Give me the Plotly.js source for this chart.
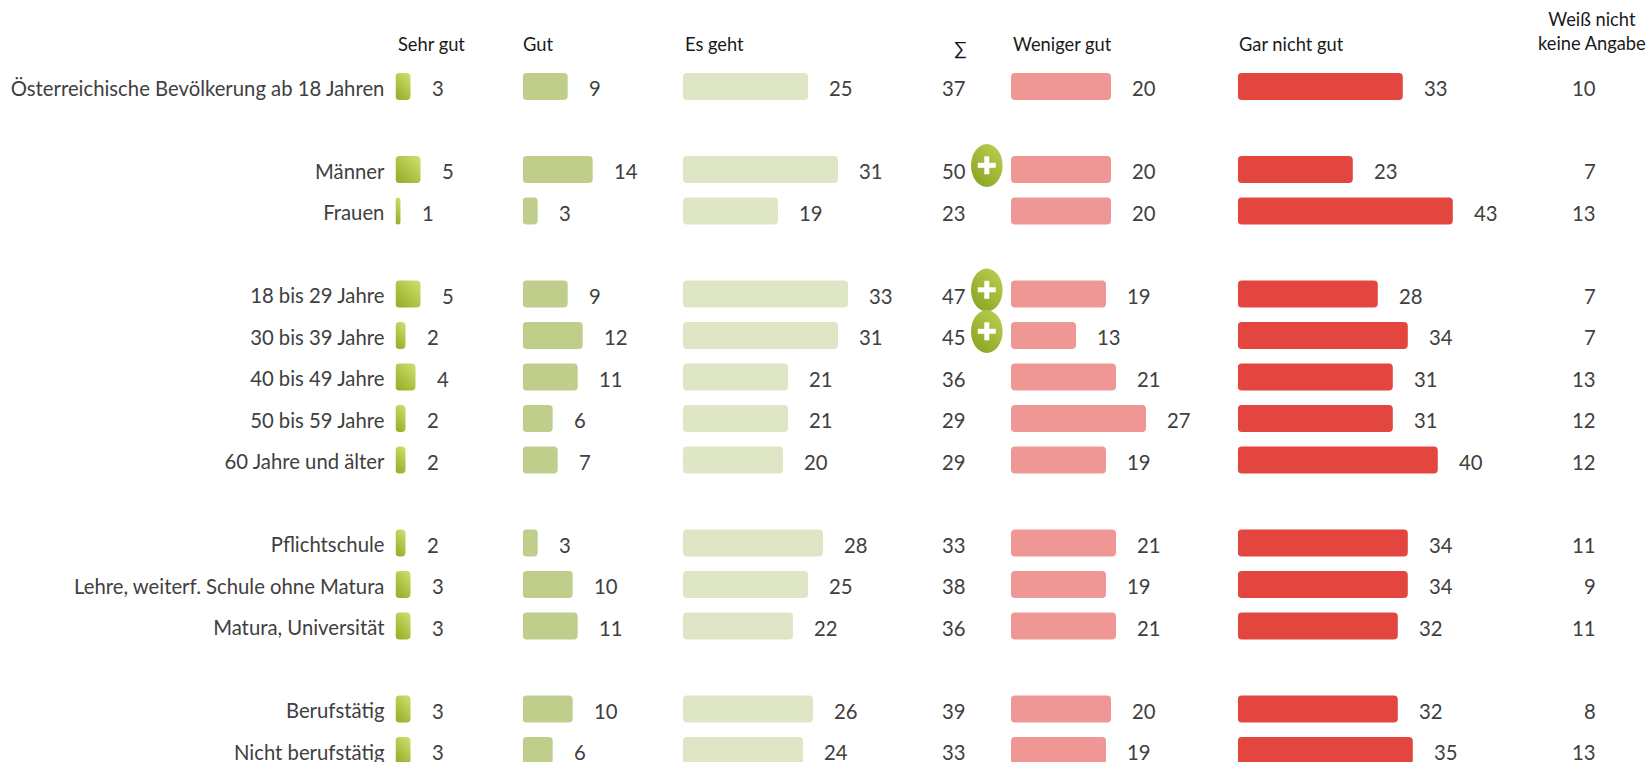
<!DOCTYPE html>
<html><head><meta charset="utf-8">
<script src="https://cdn.plot.ly/plotly-3.0.1.min.js"></script>
<style>html,body{margin:0;padding:0;background:#fff;overflow:hidden}</style>
</head><body><div id="chart" style="width:1650px;height:762px"></div>
<script>
const rowOrder = ["Österreichische Bevölkerung ab 18 Jahren"," ","Männer","Frauen","  ","18 bis 29 Jahre","30 bis 39 Jahre","40 bis 49 Jahre","50 bis 59 Jahre","60 Jahre und älter","   ","Pflichtschule","Lehre, weiterf. Schule ohne Matura","Matura, Universität","    ","Berufstätig","Nicht berufstätig"];
const rows = rowOrder.filter(r => r.trim());
const sehrGut    = [3,5,1,5,2,4,2,2,2,3,3,3,3];
const gut        = [9,14,3,9,12,11,6,7,3,10,11,10,6];
const esGeht     = [25,31,19,33,31,21,21,20,28,25,22,26,24];
const summe      = [37,50,23,47,45,36,29,29,33,38,36,39,33];
const wenigerGut = [20,20,20,19,13,21,27,19,21,19,21,20,19];
const garNichtGut= [33,23,43,28,34,31,31,40,34,34,32,32,35];
const weissNicht = [10,7,13,7,7,13,12,12,11,9,11,8,13];
const plusRows = ["Männer","18 bis 29 Jahre","30 bis 39 Jahre"];
const headers = [
  {t:"Sehr gut",x:396,y:44,a:"left"},{t:"Gut",x:521,y:44,a:"left"},{t:"Es geht",x:683,y:44,a:"left"},
  {t:"∑",x:960,y:48,a:"center"},{t:"Weniger gut",x:1011,y:44,a:"left"},{t:"Gar nicht gut",x:1236.5,y:44,a:"left"},
  {t:"Weiß nicht<br>keine Angabe",x:1592,y:31,a:"center"}
];
const W=1650,H=762,PX=5,ROW=41.5,TOP=86.5,SIZE=20.3;
const GRAD="rgb(181, 199, 76)", ELL="rgb(160, 185, 60)";
const panels=[
 {v:sehrGut,c:GRAD,s:395.5,e:515,ax:""},
 {v:gut,c:"#bfce8a",s:522.7,e:676,ax:"2"},
 {v:esGeht,c:"#dfe6c5",s:683,e:930,ax:"3"},
 {v:wenigerGut,c:"#ee9795",s:1011,e:1230,ax:"4"},
 {v:garNichtGut,c:"#e3463f",s:1237.8,e:1540,ax:"5"}
];
const FONT="Lato, Carlito, sans-serif", TXT="#404040";
const traces=[],annotations=[],shapes=[];
const layout={width:W,height:H,margin:{l:0,r:0,t:0,b:0},paper_bgcolor:"#fff",plot_bgcolor:"#fff",showlegend:false,barmode:"overlay",
 font:{family:FONT,size:SIZE,color:TXT},
 yaxis:{type:"category",categoryorder:"array",categoryarray:rowOrder,tickmode:"linear",dtick:1,
   range:[(H-TOP)/ROW,-TOP/ROW],domain:[0,1],anchor:"x",showgrid:false,zeroline:false,showline:false,
   ticks:"outside",ticklen:6,tickwidth:0,tickcolor:"rgba(0,0,0,0)",ticklabelshift:-2,tickfont:{family:FONT,size:SIZE,color:TXT}}};
function valueLabel(text,x,y,ref,anchor,shift){
  annotations.push({x,y,xref:ref,yref:"y",text:String(text),showarrow:false,xanchor:anchor,yanchor:"middle",
    xshift:shift,yshift:-1.5,font:{family:FONT,size:SIZE,color:TXT}});
}
panels.forEach(p=>{
  const key="xaxis"+p.ax, ref="x"+p.ax;
  layout[key]={domain:[p.s/W,p.e/W],range:[0,(p.e-p.s)/PX],visible:false,anchor:"y",fixedrange:true};
  traces.push({type:"bar",orientation:"h",x:p.v,y:rows,xaxis:ref,yaxis:"y",width:27/ROW,
    marker:{color:p.c,cornerradius:4,line:{width:0}},hoverinfo:"skip"});
  p.v.forEach((v,i)=>valueLabel(v,v,rows[i],ref,"left",19));
});
// text columns: each axis ends well past its labels so the badges are not clipped
const SUM_X=64.6;
layout.xaxis6={domain:[900/W,1010/W],range:[0,110],visible:false,anchor:"y"};
layout.xaxis7={domain:[1540/W,1595/W],range:[0,1],visible:false,anchor:"y"};
traces.push({type:"scatter",mode:"none",x:summe.map(()=>SUM_X),y:rows,xaxis:"x6",yaxis:"y",hoverinfo:"skip"});
traces.push({type:"scatter",mode:"none",x:weissNicht.map(()=>1),y:rows,xaxis:"x7",yaxis:"y",hoverinfo:"skip"});
summe.forEach((v,i)=>valueLabel(v,SUM_X,rows[i],"x6","right",3));
weissNicht.forEach((v,i)=>valueLabel(v,1,rows[i],"x7","right",2.5));
plusRows.forEach(r=>{
  const base={xref:"x6",yref:"y",xsizemode:"pixel",ysizemode:"pixel",xanchor:SUM_X,yanchor:r};
  shapes.push({...base,type:"circle",x0:6.4,x1:38,y0:-17.5,y1:25.5,fillcolor:ELL,line:{width:0}});
  shapes.push({...base,type:"line",x0:13.2,x1:31.2,y0:4.2,y1:4.2,line:{color:"#fff",width:5}});
  shapes.push({...base,type:"line",x0:22.2,x1:22.2,y0:-4.8,y1:13.2,line:{color:"#fff",width:5}});
});
headers.forEach(h=>annotations.push({x:h.x/W,y:1-h.y/H,xref:"paper",yref:"paper",text:h.t,showarrow:false,
  xanchor:h.a,yanchor:"middle",align:"center",font:{family:FONT,size:18.3,color:"#1a1a1a"}}));
layout.annotations=annotations;layout.shapes=shapes;

Plotly.newPlot("chart",traces,layout,{displayModeBar:false,staticPlot:true}).then(gd=>{
  const svg=gd.querySelector("svg.main-svg"),NS="http://www.w3.org/2000/svg";
  const defs=document.createElementNS(NS,"defs");svg.insertBefore(defs,svg.firstChild);
  // round all four corners of every bar (Plotly only rounds the far end)
  gd.querySelectorAll(".bars .point path").forEach(p=>{
    const b=p.getBBox(); if(!b.width)return;
    const r=Math.min(4,b.width/2),x=b.x,y=b.y,w=b.width,h=b.height;
    p.setAttribute("d",`M${x+r},${y}H${x+w-r}A${r},${r} 0 0 1 ${x+w},${y+r}V${y+h-r}A${r},${r} 0 0 1 ${x+w-r},${y+h}H${x+r}A${r},${r} 0 0 1 ${x},${y+h-r}V${y+r}A${r},${r} 0 0 1 ${x+r},${y}Z`);
  });
  let n=0;
  gd.querySelectorAll("path").forEach(p=>{
    const f=p.style.fill;
    if(f!==GRAD&&f!==ELL)return;
    const b=p.getBBox(),d=(b.width+b.height)/4,cx=b.x+b.width/2,cy=b.y+b.height/2;
    const g=document.createElementNS(NS,"linearGradient"),id="g"+(n++);
    g.setAttribute("id",id);g.setAttribute("gradientUnits","userSpaceOnUse");
    g.setAttribute("x1",cx-d);g.setAttribute("y1",cy+d);g.setAttribute("x2",cx+d);g.setAttribute("y2",cy-d);
    (f===GRAD?[["0","#94aa22"],["1","#d0e070"]]:[["0","#86a01c"],["1","#bdd155"]]).forEach(([o,c])=>{
      const s=document.createElementNS(NS,"stop");s.setAttribute("offset",o);s.setAttribute("stop-color",c);g.appendChild(s);});
    defs.appendChild(g);
    p.style.fill=`url(#${id})`;
  });
});
</script></body></html>
